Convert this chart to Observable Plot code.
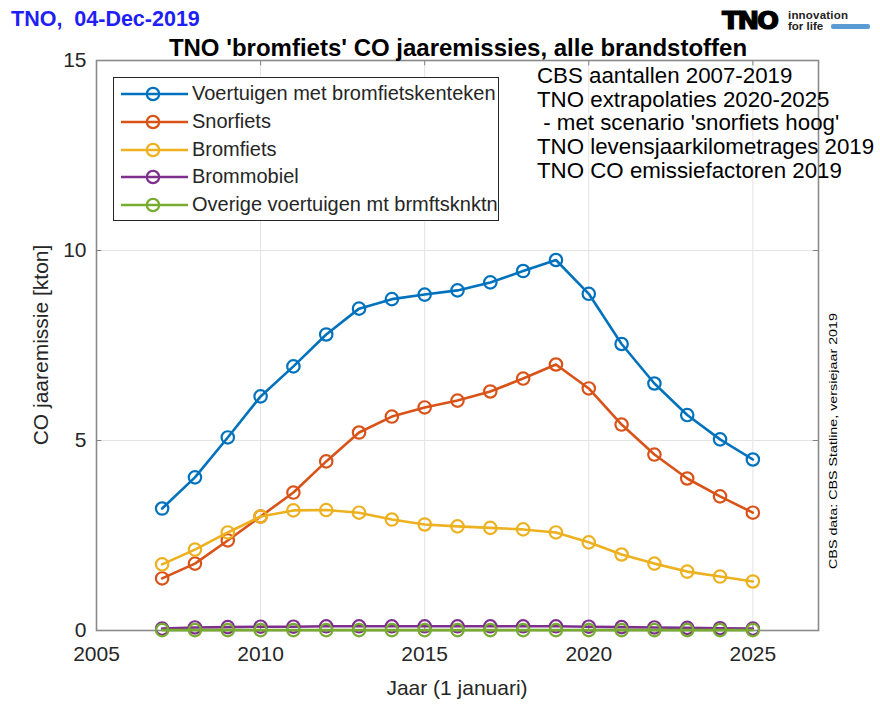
<!DOCTYPE html>
<html><head><meta charset="utf-8">
<script src="https://cdn.jsdelivr.net/npm/d3@7"></script>
<script src="https://cdn.jsdelivr.net/npm/@observablehq/plot@0.6"></script>
<style>
body{margin:0;background:#fff;font-family:"Liberation Sans",Arial,sans-serif;}
#wrap{position:relative;width:880px;height:705px;overflow:hidden;background:#fff;}
.abs{position:absolute;white-space:pre;line-height:1;}
</style></head><body>
<div id="wrap"></div>
<script>
const years = [2007,2008,2009,2010,2011,2012,2013,2014,2015,2016,2017,2018,2019,2020,2021,2022,2023,2024,2025];
const voertuigen = [3.21,4.03,5.08,6.16,6.95,7.79,8.47,8.72,8.84,8.95,9.16,9.46,9.75,8.86,7.54,6.50,5.67,5.03,4.50];
const snorfiets  = [1.37,1.76,2.37,3.00,3.63,4.45,5.21,5.63,5.87,6.05,6.29,6.63,7.00,6.37,5.42,4.63,4.00,3.53,3.10];
const bromfiets  = [1.74,2.13,2.58,3.00,3.16,3.17,3.10,2.92,2.79,2.74,2.70,2.66,2.58,2.32,2.00,1.76,1.55,1.42,1.29];
const brommobiel = [0.05,0.08,0.09,0.10,0.10,0.11,0.11,0.11,0.11,0.11,0.11,0.11,0.11,0.10,0.09,0.08,0.07,0.06,0.05];
const overige    = [0.01,0.01,0.01,0.01,0.01,0.01,0.01,0.01,0.01,0.01,0.01,0.01,0.01,0.01,0.01,0.01,0.01,0.01,0.01];
const seriesNames = ["Voertuigen met bromfietskenteken","Snorfiets","Bromfiets","Brommobiel","Overige voertuigen mt brmftsknktn"];
const seriesValues = [voertuigen, snorfiets, bromfiets, brommobiel, overige];
const colors = ["#0072BD","#D95319","#EDB120","#7E2F8E","#77AC30"];
const xTicks = [2005,2010,2015,2020,2025];
const yTicks = [0,5,10,15];
const xDomain = [2005,2027];
const yDomain = [0,15];
const titleText = "TNO 'bromfiets' CO jaaremissies, alle brandstoffen";
const dateText = "TNO,  04-Dec-2019";
const xLabel = "Jaar (1 januari)";
const yLabel = "CO jaaremissie [kton]";
const notes = ["CBS aantallen 2007-2019","TNO extrapolaties 2020-2025"," - met scenario 'snorfiets hoog'","TNO levensjaarkilometrages 2019","TNO CO emissiefactoren 2019"];
const sourceText = "CBS data: CBS Statline, versiejaar 2019";

const data = seriesNames.map((name,i)=>years.map((year,j)=>({name, year, value: seriesValues[i][j]})));

const seriesMarks = [];
data.forEach((d,i)=>{
  seriesMarks.push(Plot.line(d,{x:"year",y:"value",stroke:colors[i],strokeWidth:2.6}));
  seriesMarks.push(Plot.dot(d,{x:"year",y:"value",r:6.2,stroke:colors[i],strokeWidth:2.2,fill:"none"}));
});

const ML=96, MR=62, MT=60, MB=75;
const chart = Plot.plot({
  width:880, height:705,
  marginLeft:ML, marginRight:MR, marginTop:MT, marginBottom:MB,
  style:{fontFamily:"'Liberation Sans',Arial,sans-serif",fontSize:"21px",color:"#262626",background:"transparent"},
  x:{domain:xDomain},
  y:{domain:yDomain},
  marks:[
    Plot.gridX(xTicks,{stroke:"#e3e3e3",strokeOpacity:1,strokeWidth:1}),
    Plot.gridY(yTicks,{stroke:"#e3e3e3",strokeOpacity:1,strokeWidth:1}),
    Plot.ruleX(xTicks,{y1:0,y2:0.14,stroke:"#808080"}),
    Plot.ruleX(xTicks,{y1:15,y2:14.86,stroke:"#808080"}),
    Plot.ruleY(yTicks,{x1:2005,x2:2005.16,stroke:"#808080"}),
    Plot.ruleY(yTicks,{x1:2027,x2:2026.84,stroke:"#808080"}),
    Plot.axisX(xTicks,{tickSize:0,tickPadding:16,tickFormat:d=>String(d),label:null,fontSize:21}),
    Plot.axisY(yTicks,{tickSize:0,tickPadding:10,tickFormat:d=>String(d),label:null,fontSize:21}),
    Plot.frame({stroke:"#8a8a8a",strokeWidth:1.6}),
    ...seriesMarks
  ]
});
const wrap = document.getElementById("wrap");
chart.style.position="absolute"; chart.style.left="0"; chart.style.top="0";
wrap.appendChild(chart);

function add(html, css){const d=document.createElement("div");d.className="abs";d.innerHTML=html;Object.assign(d.style,css);wrap.appendChild(d);return d;}

// date
add(dateText,{left:"11px",top:"9px",fontSize:"21.5px",fontWeight:"bold",color:"#1e1ef5"});
// title
add(titleText,{left:"458px",top:"36px",fontSize:"24px",fontWeight:"bold",color:"#000",transform:"translateX(-50%)"});
// logo
add("TNO",{left:"722px",top:"9px",fontSize:"24px",fontWeight:"900",fontFamily:"'DejaVu Sans',sans-serif",letterSpacing:"-2px",color:"#000",WebkitTextStroke:"1.2px #000",transform:"scaleX(1.08)",transformOrigin:"left"});
add("innovation",{left:"788px",top:"10px",fontSize:"11.5px",fontWeight:"bold",color:"#222",letterSpacing:"0.2px"});
add("for life",{left:"788px",top:"21px",fontSize:"11.5px",fontWeight:"bold",color:"#222"});
add("",{left:"831px",top:"24px",width:"39px",height:"5px",borderRadius:"2px",background:"#5b9bd5"});

// notes
notes.forEach((t,i)=>add(t,{left:"537px",top:(65+i*23.7)+"px",fontSize:"22.3px",color:"#000"}));

// legend
const leg = add("",{left:"113px",top:"77px",width:"384px",height:"142px",border:"1.3px solid #262626",background:"#fff"});
seriesNames.forEach((n,i)=>{
  const cy = 16+i*27.8;
  const s = document.createElementNS("http://www.w3.org/2000/svg","svg");
  s.setAttribute("width","70");s.setAttribute("height","20");
  s.style.position="absolute";s.style.left="6px";s.style.top=(cy-10)+"px";
  s.innerHTML=`<line x1="1" x2="68" y1="10" y2="10" stroke="${colors[i]}" stroke-width="2.6"/><circle cx="33" cy="10" r="6.2" fill="none" stroke="${colors[i]}" stroke-width="2.2"/>`;
  leg.appendChild(s);
  const t=document.createElement("div");t.className="abs";t.textContent=n;
  Object.assign(t.style,{left:"78px",top:(cy-11)+"px",fontSize:"20px",color:"#262626"});
  leg.appendChild(t);
});

// axis labels
add(xLabel,{left:"457px",top:"677px",fontSize:"21px",color:"#262626",transform:"translateX(-50%)"});
add(yLabel,{left:"40px",top:"345px",fontSize:"21px",color:"#262626",transform:"translate(-50%,-50%) rotate(-90deg)"});
// source
add(sourceText,{left:"833px",top:"441px",fontSize:"11px",color:"#000",transform:"translate(-50%,-50%) rotate(-90deg) scaleX(1.3)"});
</script>
</body></html>
